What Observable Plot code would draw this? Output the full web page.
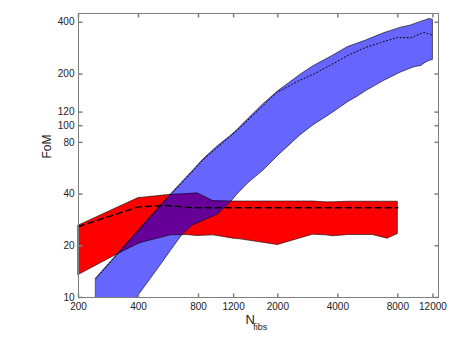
<!DOCTYPE html>
<html><head><meta charset="utf-8">
<script src="https://cdn.jsdelivr.net/npm/d3@7"></script>
<script src="https://cdn.jsdelivr.net/npm/@observablehq/plot@0.6"></script>
<style>body{margin:0;background:#fff}</style>
</head><body><div id="chart"></div>
<script>
// Tick values
const xTicks = [200, 400, 800, 1200, 2000, 4000, 8000, 12000];
const yTicks = [10, 20, 40, 80, 100, 120, 200, 400];

// Red band (N_fibs vs FoM range)
const redX     = [200, 310, 400, 420, 580, 700, 790, 950, 1200, 1300, 2000, 3000, 3500, 3800, 4500, 6000, 7100, 8000];
const redUpper = [26.2, 33.1, 37.9, 38.1, 39.6, 40.0, 40.4, 36.4, 36.2, 36.2, 36.2, 36.2, 35.8, 35.8, 36.1, 36.1, 36.1, 36.1];
const redLower = [13.5, 17.7, 20.5, 20.9, 23.0, 23.1, 22.8, 23.0, 22.0, 21.8, 20.2, 23.2, 23.0, 22.7, 23.1, 23.1, 22.0, 23.4];
// Red mean (dashed)
const redMeanX = [200, 400, 550, 750, 8000];
const redMean  = [25.9, 33.7, 34.3, 33.3, 33.3];

// Blue band
const blueX     = [245, 300, 394, 500, 580, 660, 745, 850, 1000, 1160, 1250, 1430, 1700, 2000, 2600, 3000, 3700, 4500, 5000, 5500, 6800, 7400, 8000, 8300, 9300, 9700, 10500, 11000, 11500, 12000];
const blueUpper = [12.9, 16.8, 24.0, 32.7, 39.6, 46.6, 54.1, 64, 76, 87, 94, 110, 134, 158, 198, 221, 252, 287, 300, 312, 345, 356, 367, 372, 383, 390, 403, 410, 418, 414];
const blueLower = [4.7, 6.5, 10, 14.6, 18.6, 22.9, 26.2, 28.0, 30.4, 35.7, 39.6, 46.5, 55, 66.5, 88, 100, 117, 137, 147, 158, 182, 191, 200, 204, 215, 219, 223, 232, 238, 241.5];
// Blue mean (dotted)
const blueMeanX = [245, 312, 580, 853, 1250, 2000, 2070, 2600, 3040, 3850, 4470, 5500, 6570, 7970, 9300, 10800, 11700, 12000];
const blueMean  = [12.9, 17.7, 39.6, 64, 94, 158, 160, 185, 200, 232, 256, 285, 305, 326, 325, 349, 340, 335];

const xLabelMain = "N";
const xLabelSub = "fibs";
const yLabel = "FoM";

const redBand = redX.map((x, i) => ({x, lo: redLower[i], hi: redUpper[i]}));
const blueBand = blueX.map((x, i) => ({x, lo: blueLower[i], hi: blueUpper[i]}));
const redMeanData = redMeanX.map((x, i) => ({x, y: redMean[i]}));
const blueMeanData = blueMeanX.map((x, i) => ({x, y: blueMean[i]}));

const xDomain = [200, 12800];
const yDomain = [10, 450];
const axisGrey = "#7f7f7f";
const tickFont = "'Liberation Sans Narrow', 'Liberation Sans', Arial, sans-serif";
const labelFont = "'Liberation Sans', Arial, sans-serif";

// custom tick symbols (inward ticks, fixed 4px)
const tickSym = (dx, dy) => ({draw(context) { context.moveTo(0, 0); context.lineTo(dx, dy); }});
const tickUp = tickSym(0, -4), tickDown = tickSym(0, 4), tickRight = tickSym(4, 0), tickLeft = tickSym(-4, 0);

const plot = Plot.plot({
  width: 463, height: 348,
  marginLeft: 78, marginRight: 25, marginTop: 13, marginBottom: 51,
  style: {background: "#fff", fontFamily: tickFont, fontSize: "10px", color: "#222"},
  x: {type: "log", domain: xDomain, axis: null},
  y: {type: "log", domain: yDomain, axis: null},
  marks: [
    Plot.areaY(redBand, {x: "x", y1: "lo", y2: "hi", fill: "#ff0000"}),
    Plot.areaY(blueBand, {x: "x", y1: "lo", y2: "hi", fill: "#6666ff", clip: true}),
    Plot.areaY(redBand, {x: "x", y1: "lo", y2: "hi", fill: "none", stroke: "#000", strokeWidth: 0.6}),
    Plot.areaY(blueBand, {x: "x", y1: "lo", y2: "hi", fill: "none", stroke: "#000", strokeWidth: 0.6, clip: true}),
    Plot.line(redMeanData, {x: "x", y: "y", stroke: "#000", strokeWidth: 1.4, strokeDasharray: "6,4"}),
    Plot.line(blueMeanData, {x: "x", y: "y", stroke: "#000", strokeWidth: 1, strokeDasharray: "1,2.5", clip: true}),
    Plot.frame({stroke: axisGrey}),
    Plot.dot(xTicks, {x: d => d, y: () => yDomain[0], symbol: tickUp, stroke: axisGrey, fill: "none"}),
    Plot.dot(xTicks, {x: d => d, y: () => yDomain[1], symbol: tickDown, stroke: axisGrey, fill: "none"}),
    Plot.dot(yTicks, {y: d => d, x: () => xDomain[0], symbol: tickRight, stroke: axisGrey, fill: "none"}),
    Plot.dot(yTicks, {y: d => d, x: () => xDomain[1], symbol: tickLeft, stroke: axisGrey, fill: "none"}),
    Plot.text(xTicks, {x: d => d, frameAnchor: "bottom", text: d => String(d), lineAnchor: "top", dy: 5, fill: "#222"}),
    Plot.text(yTicks, {y: d => d, frameAnchor: "left", text: d => String(d), textAnchor: "end", dx: -4, fill: "#222"}),
    Plot.text([yLabel], {text: d => d, frameAnchor: "left", dx: -31.7, dy: 3, rotate: -90, fontSize: 12, fontFamily: labelFont, fill: "#222"}),
    Plot.text([xLabelMain], {text: d => d, frameAnchor: "bottom", textAnchor: "start", dx: -12.9, dy: 26, fontSize: 13, fontFamily: labelFont, fill: "#222"}),
    Plot.text([xLabelSub], {text: d => d, frameAnchor: "bottom", textAnchor: "start", dx: -5.2, dy: 32, fontSize: 9, fontFamily: labelFont, fill: "#222"})
  ]
});

// Overlap region (red ∩ blue) drawn purple: blue area clipped by red area path
(function () {
  const ns = "http://www.w3.org/2000/svg";
  const areas = plot.querySelectorAll('g[aria-label="area"]');
  if (areas.length < 2) return;
  const redPath = areas[0].querySelector("path");
  const bluePath = areas[1].querySelector("path");
  if (!redPath || !bluePath) return;
  const defs = document.createElementNS(ns, "defs");
  const cp = document.createElementNS(ns, "clipPath");
  cp.setAttribute("id", "red-band-clip");
  const rp = document.createElementNS(ns, "path");
  rp.setAttribute("d", redPath.getAttribute("d"));
  cp.appendChild(rp);
  defs.appendChild(cp);
  plot.insertBefore(defs, plot.firstChild);
  const overlay = bluePath.cloneNode();
  overlay.setAttribute("fill", "#660099");
  overlay.setAttribute("clip-path", "url(#red-band-clip)");
  bluePath.parentNode.appendChild(overlay);
})();

document.getElementById("chart").appendChild(plot);
</script>
</body></html>
